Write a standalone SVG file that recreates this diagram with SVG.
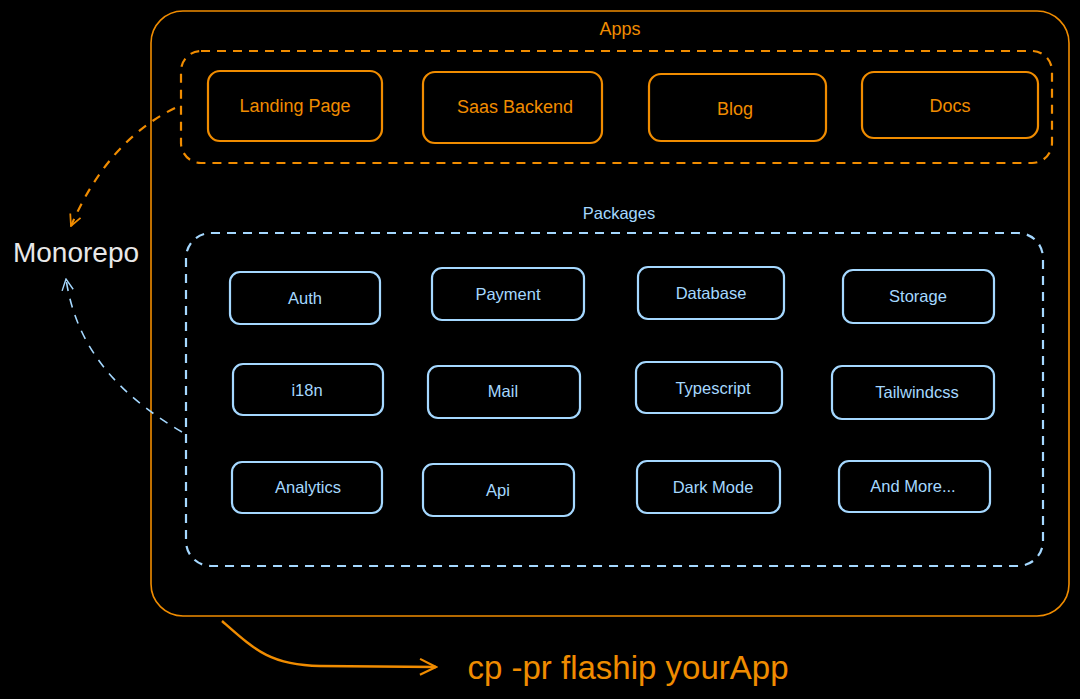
<svg xmlns="http://www.w3.org/2000/svg" width="1080" height="699" viewBox="0 0 1080 699">
<defs>
<style>
.o{fill:none;stroke:#f08c00;stroke-width:2.2;}
.b{fill:none;stroke:#a5d8ff;stroke-width:2.2;}
.ot{fill:#f08c00;font-family:"Liberation Sans",Arial,sans-serif;font-size:18px;text-anchor:middle;dominant-baseline:central;}
.bt{fill:#a5d8ff;font-family:"Liberation Sans",Arial,sans-serif;font-size:16.5px;text-anchor:middle;dominant-baseline:central;}
.dash{stroke-dasharray:9 7;}
</style>
<marker id="ao" viewBox="0 0 20 20" refX="18" refY="10" markerWidth="14" markerHeight="14" markerUnits="userSpaceOnUse" orient="auto"><path d="M2,2 L18,10 L2,18" fill="none" stroke="#f08c00" stroke-width="2.5"/></marker>
<marker id="ab" viewBox="0 0 20 20" refX="18" refY="10" markerWidth="14" markerHeight="14" markerUnits="userSpaceOnUse" orient="auto"><path d="M2,2 L18,10 L2,18" fill="none" stroke="#a5d8ff" stroke-width="2"/></marker>
<marker id="ao2" viewBox="0 0 20 20" refX="18" refY="10" markerWidth="20" markerHeight="20" markerUnits="userSpaceOnUse" orient="auto"><path d="M2,2 L18,10 L2,18" fill="none" stroke="#f08c00" stroke-width="2.2"/></marker>
</defs>
<rect width="1080" height="699" fill="#000"/>

<g id="outer">
<rect x="151" y="11" width="918" height="605" rx="32" fill="none" stroke="#f08c00" stroke-width="1.6"/>
</g>

<g id="apps">
<text x="620" y="29" class="ot" font-size="20">Apps</text>
<rect x="181" y="51" width="871" height="112" rx="20" class="o dash" stroke-width="2.5"/>
</g>
<g id="landing"><rect x="208" y="71" width="174" height="70" rx="12" class="o"/><text x="295" y="106" class="ot">Landing Page</text></g>
<g id="saas"><rect x="423" y="72" width="179" height="71" rx="12" class="o"/><text x="515" y="107" class="ot">Saas Backend</text></g>
<g id="blog"><rect x="649" y="74" width="177" height="67" rx="12" class="o"/><text x="735" y="109" class="ot">Blog</text></g>
<g id="docs"><rect x="862" y="72" width="176" height="66" rx="12" class="o"/><text x="950" y="106" class="ot">Docs</text></g>

<g id="packages">
<text x="619" y="213" class="bt" font-size="20">Packages</text>
<rect x="186" y="233" width="857" height="333" rx="25" class="b dash" stroke-width="2.5"/>
</g>
<g id="auth"><rect x="230" y="272" width="150" height="52" rx="10" class="b"/><text x="305" y="298" class="bt">Auth</text></g>
<g id="payment"><rect x="432" y="268" width="152" height="52" rx="10" class="b"/><text x="508" y="294" class="bt">Payment</text></g>
<g id="database"><rect x="638" y="267" width="146" height="52" rx="10" class="b"/><text x="711" y="293" class="bt">Database</text></g>
<g id="storage"><rect x="843" y="270" width="151" height="53" rx="10" class="b"/><text x="918" y="296" class="bt">Storage</text></g>
<g id="i18n"><rect x="233" y="364" width="150" height="51" rx="10" class="b"/><text x="307" y="390" class="bt">i18n</text></g>
<g id="mail"><rect x="428" y="366" width="152" height="52" rx="10" class="b"/><text x="503" y="391" class="bt">Mail</text></g>
<g id="typescript"><rect x="636" y="362" width="146" height="51" rx="10" class="b"/><text x="713" y="388" class="bt">Typescript</text></g>
<g id="tailwind"><rect x="832" y="366" width="162" height="53" rx="10" class="b"/><text x="917" y="392" class="bt">Tailwindcss</text></g>
<g id="analytics"><rect x="232" y="462" width="150" height="51" rx="10" class="b"/><text x="308" y="487" class="bt">Analytics</text></g>
<g id="api"><rect x="423" y="464" width="151" height="52" rx="10" class="b"/><text x="498" y="490" class="bt">Api</text></g>
<g id="darkmode"><rect x="637" y="461" width="143" height="52" rx="10" class="b"/><text x="713" y="487" class="bt">Dark Mode</text></g>
<g id="andmore"><rect x="839" y="461" width="151" height="51" rx="10" class="b"/><text x="913" y="486" class="bt">And More...</text></g>

<g id="monorepo"><text x="76" y="252" fill="#e8e8e8" font-family="Liberation Sans,Arial,sans-serif" font-size="28" text-anchor="middle" dominant-baseline="central">Monorepo</text></g>

<g id="command"><text x="628" y="667" fill="#f08c00" font-family="Liberation Sans,Arial,sans-serif" font-size="33" text-anchor="middle" dominant-baseline="central">cp -pr flaship yourApp</text></g>

<g id="connectors">
<path d="M175,108 C130,130 95,170 71,226" fill="none" stroke="#f08c00" stroke-width="2.2" stroke-dasharray="9 8" marker-end="url(#ao)"/>
<path d="M182,432 C110,390 75,340 66,279" fill="none" stroke="#a5d8ff" stroke-width="1.6" stroke-dasharray="9 8" marker-end="url(#ab)"/>
<path d="M222,621 C255,650 270,665 320,666 L436,667" fill="none" stroke="#f08c00" stroke-width="2.4" marker-end="url(#ao2)"/>
</g>
</svg>
